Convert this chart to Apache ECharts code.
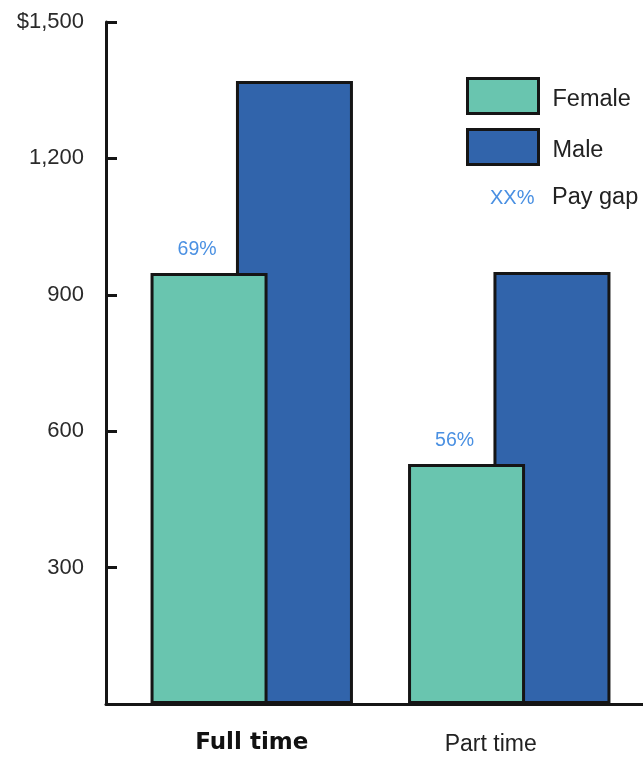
<!DOCTYPE html>
<html>
<head>
<meta charset="utf-8">
<script src="https://cdn.jsdelivr.net/npm/echarts@6/dist/echarts.min.js"></script>
<style>
  html, body { margin: 0; padding: 0; background: #ffffff; }
  #chart { width: 643px; height: 757px; }
</style>
</head>
<body>
<div id="chart"></div>
<script>
// Weekly earnings by work schedule and sex
const categories = ['Full time', 'Part time'];
const femaleValues = [948, 528];
const maleValues = [1370, 950];
const yTicks = [0, 300, 600, 900, 1200, 1500];

const FONT = '"Liberation Sans", Arial, Helvetica, sans-serif';
const HEAVY = '"DejaVu Sans", "Liberation Sans", Arial, sans-serif';
const TEAL = '#69c5af';
const BLUE = '#3164ab';
const GAP_BLUE = '#4a90e2';
const INK = '#151515';

const yMin = yTicks[0];
const yMax = yTicks[yTicks.length - 1];
const yStep = yTicks[1] - yTicks[0];

function payGap(i) {
  return Math.round(femaleValues[i] / maleValues[i] * 100) + '%';
}

const chart = echarts.init(document.getElementById('chart'), null, { renderer: 'canvas' });

chart.setOption({
  animation: false,
  backgroundColor: '#ffffff',
  textStyle: { fontFamily: FONT },
  grid: [
    { left: 123, right: 5, top: 22, bottom: 53 },   // bars
    { left: 106, right: 0, top: 22, bottom: 53 }    // axis frame
  ],
  legend: {
    orient: 'vertical',
    left: 466,
    top: 77,
    padding: 0,
    itemWidth: 71,
    itemHeight: 35,
    itemGap: 13,
    icon: 'rect',
    data: ['Female', 'Male'],
    itemStyle: { borderColor: INK, borderWidth: 3 },
    formatter: function (name) { return '{n|' + name + '}'; },
    textStyle: {
      fontFamily: FONT, fontSize: 23.5, color: '#222',
      rich: { n: { fontFamily: FONT, fontSize: 23.5, color: '#222', padding: [8, 0, 0, 9] } }
    }
  },
  xAxis: [
    {
      type: 'category',
      gridIndex: 0,
      data: categories,
      axisLine: { show: false },
      axisTick: { show: false },
      axisLabel: {
        margin: 24,
        formatter: function (v) {
          return v === 'Full time' ? '{ft|' + v + '}' : '{pt|' + v + '}';
        },
        rich: {
          ft: { fontFamily: HEAVY, fontSize: 23, fontWeight: 'bold', color: '#111', padding: [4, 0, 0, 0] },
          pt: { fontFamily: FONT, fontSize: 23, color: '#222', padding: [5, 37, 0, 0] }
        }
      }
    },
    {
      type: 'category',
      gridIndex: 1,
      data: [''],
      axisLine: { show: true, lineStyle: { color: INK, width: 3 } },
      axisTick: { show: false },
      axisLabel: { show: false }
    }
  ],
  yAxis: [
    {
      type: 'value',
      gridIndex: 0,
      min: yMin, max: yMax, interval: yStep,
      show: false
    },
    {
      type: 'value',
      gridIndex: 1,
      min: yMin, max: yMax, interval: yStep,
      axisLine: { show: true, lineStyle: { color: INK, width: 3 } },
      axisTick: { show: true, inside: true, length: 11, lineStyle: { color: INK, width: 3 } },
      splitLine: { show: false },
      axisLabel: {
        margin: 22,
        fontFamily: FONT,
        fontSize: 22,
        color: '#2a2a2a',
        formatter: function (v) {
          if (v === 0) return '';
          const s = v.toLocaleString('en-US');
          return v === yMax ? '$' + s : s;
        }
      }
    }
  ],
  series: [
    {
      name: 'Female',
      type: 'bar',
      xAxisIndex: 0,
      yAxisIndex: 0,
      data: femaleValues,
      barWidth: 117,
      barGap: '-27%',
      z: 3,
      itemStyle: { color: TEAL, borderColor: INK, borderWidth: 3 },
      label: {
        show: true,
        position: 'top',
        distance: 13,
        offset: [-12, 0],
        fontFamily: FONT,
        fontSize: 19.5,
        color: GAP_BLUE,
        formatter: function (p) { return payGap(p.dataIndex); }
      }
    },
    {
      name: 'Male',
      type: 'bar',
      xAxisIndex: 0,
      yAxisIndex: 0,
      data: maleValues,
      barWidth: 117,
      barGap: '-27%',
      z: 2,
      itemStyle: { color: BLUE, borderColor: INK, borderWidth: 3 }
    }
  ],
  graphic: [
    {
      type: 'text',
      left: 490,
      top: 188,
      style: { text: 'XX%', fontFamily: FONT, fontSize: 20, fill: GAP_BLUE }
    },
    {
      type: 'text',
      left: 552,
      top: 186,
      style: { text: 'Pay gap', fontFamily: FONT, fontSize: 23.5, fill: '#222' }
    }
  ]
});
</script>
</body>
</html>
